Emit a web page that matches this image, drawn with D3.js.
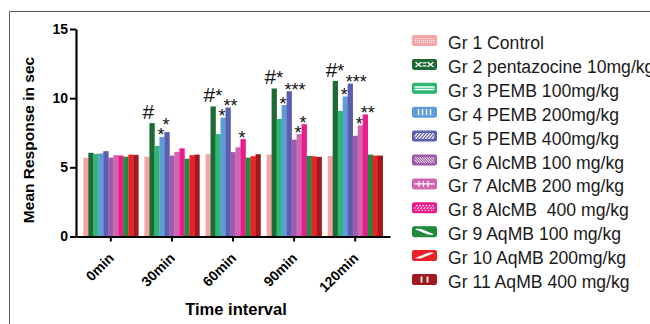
<!DOCTYPE html>
<html>
<head>
<meta charset="utf-8">
<script src="https://cdnjs.cloudflare.com/ajax/libs/d3/7.8.5/d3.min.js"></script>
<style>
  body { margin: 0; background: #fff; }
  svg text { font-family: "Liberation Sans", Arial, sans-serif; white-space: pre; }
</style>
</head>
<body>
<div id="chart"></div>
<script>
// time points on x axis
var times = ["0min", "30min", "60min", "90min", "120min"];

var groupNames = ["Gr 1 Control", "Gr 2 pentazocine 10mg/kg", "Gr 3 PEMB 100mg/kg",
  "Gr 4 PEMB 200mg/kg", "Gr 5 PEMB 400mg/kg", "Gr 6 AlcMB 100 mg/kg",
  "Gr 7 AlcMB 200 mg/kg", "Gr 8 AlcMB  400 mg/kg", "Gr 9 AqMB 100 mg/kg",
  "Gr 10 AqMB 200mg/kg", "Gr 11 AqMB 400 mg/kg"];

// mean response (sec) per group, one value per time point
var gr1  = [5.70, 5.77, 5.95, 5.92, 5.82];
var gr2  = [6.05, 8.20, 9.40, 10.70, 11.25];
var gr3  = [5.97, 6.55, 7.40, 8.50, 9.08];
var gr4  = [6.00, 7.20, 8.60, 9.50, 10.12];
var gr5  = [6.17, 7.55, 9.32, 10.50, 11.05];
var gr6  = [5.70, 5.85, 6.10, 7.00, 7.28];
var gr7  = [5.88, 6.12, 6.45, 7.40, 8.03];
var gr8  = [5.85, 6.37, 7.04, 8.12, 8.82];
var gr9  = [5.77, 5.62, 5.70, 5.83, 5.92];
var gr10 = [5.92, 5.88, 5.80, 5.80, 5.85];
var gr11 = [5.90, 5.92, 5.95, 5.75, 5.85];

var yTicks = [0, 5, 10, 15];

// significance marks: [time, group index, text]
var marks = [
  ["30min", 1, "#"], ["30min", 3, "*"], ["30min", 4, "*"],
  ["60min", 1, "#*"], ["60min", 3, "*"], ["60min", 4, "**"], ["60min", 7, "*"],
  ["90min", 1, "#*"], ["90min", 3, "*"], ["90min", 4, "***"], ["90min", 6, "*"], ["90min", 7, "*"],
  ["120min", 1, "#*"], ["120min", 3, "*"], ["120min", 4, "***"], ["120min", 6, "*"], ["120min", 7, "**"]
];

var series = [gr1, gr2, gr3, gr4, gr5, gr6, gr7, gr8, gr9, gr10, gr11];

var colors = ["#F4A3A6", "#1D6A34", "#2DB675", "#5E9DD8", "#5B5DAF", "#9D5BAF",
              "#D166B0", "#EC1A8B", "#1F8A3C", "#EE2027", "#A1191F"];

var width = 650, height = 324;
var x0 = 76, x1 = 390, yBase = 236.5, yTop = 29;

var svg = d3.select("#chart").append("svg")
  .attr("width", width)
  .attr("height", height);

// frame around the figure panel (only top + left visible)
svg.append("path")
  .attr("d", "M9.5," + height + "V11.5H" + width)
  .attr("fill", "none")
  .attr("stroke", "#5a5a5a")
  .attr("stroke-width", 1);

var x = d3.scaleBand()
  .domain(times)
  .range([x0, x1])
  .paddingInner(0.1)
  .paddingOuter(0.12);

var xg = d3.scaleBand()
  .domain(d3.range(series.length))
  .range([0, x.bandwidth()]);

var y = d3.scaleLinear()
  .domain([0, 15])
  .range([yBase, yTop]);

// bars
var tg = svg.selectAll(".time")
  .data(times)
  .enter().append("g")
  .attr("class", "time")
  .attr("transform", function(t) { return "translate(" + x(t) + ",0)"; });

tg.selectAll("rect")
  .data(function(t, ti) { return series.map(function(s, gi) { return { g: gi, v: s[ti] }; }); })
  .enter().append("rect")
  .attr("x", function(d) { return xg(d.g); })
  .attr("width", xg.bandwidth() + 0.3)
  .attr("y", function(d) { return y(d.v); })
  .attr("height", function(d) { return yBase - y(d.v); })
  .attr("fill", function(d) { return colors[d.g]; });

// marks above bars
function barMid(m) { return x(m[0]) + xg(m[1]) + xg.bandwidth() / 2; }
function barTop(m) { return y(series[m[1]][times.indexOf(m[0])]); }

// star baselines; a star right next to another one gets pushed up so they dont collide
var starY = {};
marks.forEach(function(m) {
  if (m[2].charAt(0) != "*") return;
  var yy = barTop(m) + 4.5;
  var prev = starY[m[0] + "_" + (m[1] - 1)];
  if (prev !== undefined) yy = Math.min(yy, prev - 10);
  starY[m[0] + "_" + m[1]] = yy;
});

var mk = svg.selectAll(".mark")
  .data(marks)
  .enter().append("text")
  .attr("class", "mark")
  .style("font-size", "18px")
  .style("fill", "#111");

// hash marks sit on top of the bar, stars hang just over it
mk.filter(function(m) { return m[2].charAt(0) == "#"; })
  .attr("x", function(m) { return barMid(m) - 9.5; })
  .attr("y", function(m) { return barTop(m) - 4; })
  .each(function(m) {
    d3.select(this).append("tspan").style("font-size", "21px").text("#");
    if (m[2].length > 1) d3.select(this).append("tspan").text(m[2].slice(1));
  });

mk.filter(function(m) { return m[2].charAt(0) == "*"; })
  .attr("x", function(m) { return barMid(m) - 4.5; })
  .attr("y", function(m) { return starY[m[0] + "_" + m[1]]; })
  .text(function(m) { return m[2]; });

// axes
var yAxis = svg.append("g")
  .attr("transform", "translate(" + x0 + ",0)")
  .call(d3.axisLeft(y).tickValues(yTicks).tickSize(6).tickSizeOuter(0).tickPadding(2));

var xAxis = svg.append("g")
  .attr("transform", "translate(0," + yBase + ")")
  .call(d3.axisBottom(x).tickSize(5).tickSizeOuter(0));

[yAxis, xAxis].forEach(function(a) {
  a.select(".domain").attr("stroke", "#000").attr("stroke-width", 2.2);
  a.selectAll(".tick line").attr("stroke", "#000").attr("stroke-width", 2);
  a.selectAll("text")
    .style("font-size", "14px")
    .style("font-weight", "bold")
    .style("fill", "#000");
});

xAxis.selectAll(".tick text")
  .attr("x", 0).attr("y", 0).attr("dy", 0)
  .attr("text-anchor", "end")
  .attr("transform", "translate(4,22.5) rotate(-45)");

// axis titles
svg.append("text")
  .attr("transform", "translate(34,140) rotate(-90)")
  .attr("text-anchor", "middle")
  .style("font-size", "15.5px")
  .style("font-weight", "bold")
  .text("Mean Response in sec");

svg.append("text")
  .attr("x", 236)
  .attr("y", 315)
  .attr("text-anchor", "middle")
  .style("font-size", "16.5px")
  .style("font-weight", "bold")
  .text("Time interval");

// legend with patterned swatches
var sw = 25, sh = 11, rowH = 23.9;

var legend = svg.selectAll(".leg")
  .data(groupNames)
  .enter().append("g")
  .attr("class", "leg")
  .attr("transform", function(d, i) { return "translate(412," + (35 + i * rowH) + ")"; });

legend.append("rect")
  .attr("x", 0.6).attr("y", 0.6)
  .attr("width", sw - 1.2).attr("height", sh - 1.2)
  .attr("rx", 1.5)
  .attr("fill", function(d, i) { return colors[i]; })
  .attr("stroke", function(d, i) { return colors[i]; })
  .attr("stroke-width", 1.2);

function lines(g, segs, w, dash) {
  g.selectAll("line.p")
    .data(segs)
    .enter().append("line")
    .attr("class", "p")
    .attr("x1", function(s) { return s[0]; })
    .attr("y1", function(s) { return s[1]; })
    .attr("x2", function(s) { return s[2]; })
    .attr("y2", function(s) { return s[3]; })
    .attr("stroke", "#fff")
    .attr("stroke-width", w)
    .attr("stroke-dasharray", dash || null);
}

var defs = svg.append("defs");
defs.append("clipPath").attr("id", "swclip")
  .append("rect").attr("x", 2.5).attr("y", 2.5).attr("width", sw - 5).attr("height", sh - 5);

legend.each(function(d, i) {
  var g = d3.select(this).append("g").attr("clip-path", "url(#swclip)");
  var segs = [], k;
  if (i == 0) {
    for (var px = 3; px < 22; px += 2)
      for (var py = 3; py < 8; py += 2)
        g.append("rect").attr("x", px).attr("y", py).attr("width", 1.1).attr("height", 1.1)
          .attr("fill", "#fff").attr("opacity", 0.8);
  } else if (i == 1) {
    [6.5, 18.5].forEach(function(c) { segs.push([c - 3, 3, c + 3, 8], [c + 3, 3, c - 3, 8]); });
    segs.push([10.5, 4, 14.5, 4], [10.5, 7, 14.5, 7]);
    lines(g, segs, 1.3);
  } else if (i == 2) {
    lines(g, [[2, 4.2, 23, 4.2], [2, 6.8, 23, 6.8]], 1.5);
  } else if (i == 3) {
    for (k = 6.5; k < 21; k += 4) segs.push([k, 2, k, 9]);
    lines(g, segs, 1.4);
  } else if (i == 4 || i == 7) {
    for (k = 0; k < 26; k += 3.2) segs.push([k, 9, k + 6, 2]);
    lines(g, segs, 1.2, i == 7 ? "2,1.2" : null);
  } else if (i == 5) {
    for (k = 0; k < 26; k += 2.4) segs.push([k, 2, k + 6, 9]);
    lines(g, segs, 0.9);
  } else if (i == 6) {
    for (k = 7; k < 20; k += 4.5) segs.push([k, 2, k, 9]);
    segs.push([2, 5.5, 23, 5.5]);
    lines(g, segs, 1.2);
  } else if (i == 8) {
    lines(g, [[4, 2, 21, 9]], 2.6);
  } else if (i == 9) {
    lines(g, [[4, 9, 21, 2]], 2.6);
  } else if (i == 10) {
    lines(g, [[9.5, 2, 9.5, 9], [15.5, 2, 15.5, 9]], 1.8);
  }
});

legend.append("text")
  .attr("x", 36)
  .attr("y", 14)
  .style("font-size", "17.6px")
  .style("fill", "#1a1a1a")
  .text(function(d) { return d; });
</script>
</body>
</html>
